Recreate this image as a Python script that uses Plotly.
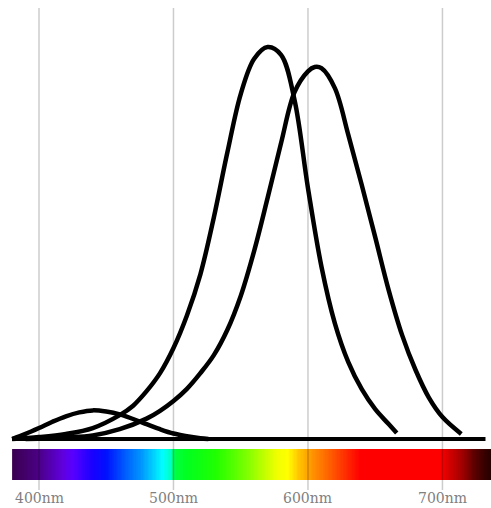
import numpy as np
import plotly.graph_objects as go

# ---- data (wavelength in nm, relative sensitivity; M peak = 1) ----
s_nm = [380, 390, 400, 410, 420, 430, 440, 450, 460, 470, 480, 490, 500, 510, 520, 526]
s_val = [0.0, 0.013, 0.028, 0.044, 0.058, 0.068, 0.073, 0.070, 0.063, 0.051, 0.038, 0.025, 0.014, 0.007, 0.002, 0.0]

m_nm = [380, 400, 420, 440, 460, 470, 480, 490, 500, 510, 520, 530, 540, 550, 560, 570,
        580, 590, 600, 610, 620, 630, 640, 650, 660, 666]
m_val = [0.0, 0.005, 0.013, 0.028, 0.061, 0.085, 0.122, 0.168, 0.232, 0.315, 0.420, 0.565, 0.730,
         0.880, 0.970, 1.0, 0.980, 0.865, 0.640, 0.440, 0.295, 0.196, 0.127, 0.076, 0.038, 0.015]

l_nm = [390, 420, 440, 460, 480, 490, 500, 510, 520, 530, 540, 550, 560, 570, 580, 590, 600, 605,
        610, 620, 630, 640, 650, 660, 670, 680, 690, 700, 714]
l_val = [0.0, 0.004, 0.009, 0.025, 0.052, 0.072, 0.097, 0.128, 0.168, 0.214, 0.278, 0.365, 0.480,
         0.615, 0.755, 0.885, 0.938, 0.949, 0.946, 0.895, 0.776, 0.648, 0.515, 0.380, 0.265, 0.176,
         0.105, 0.056, 0.013]

baseline_nm = [380, 732]

tick_nm = [400, 500, 600, 700]
tick_labels = ["400nm", "500nm", "600nm", "700nm"]

spectrum_nm = [380, 400, 418, 425, 440, 450, 465, 475, 485, 492, 498, 501, 510, 532, 555, 564,
               577, 585, 594, 604, 616, 631, 639, 698, 706, 715, 723, 733, 740]
spectrum_colors = ['#3a0050', '#4b0085', '#6000e0', '#5800ff', '#1800ff', '#0010ff', '#0060ff',
                   '#0090ff', '#00d0ff', '#00ffff', '#00ffc0', '#00ff40', '#00ff20', '#20ff00',
                   '#80ff00', '#b0ff00', '#f0ff00', '#ffff00', '#ffc000', '#ff9000', '#ff6000',
                   '#ff2000', '#ff0000', '#ff0000', '#d00000', '#a00000', '#600000', '#300000', '#200000']

# ---- layout constants ----
BAR_TOP, BAR_BOT = -0.0255, -0.1046
GRID_TOP, GRID_BOT = 1.0995, -0.130
LABEL_Y = -0.1505

lo, hi = spectrum_nm[0], spectrum_nm[-1]
colorscale = [[(w - lo) / (hi - lo), c] for w, c in zip(spectrum_nm, spectrum_colors)]
edges = np.arange(lo, hi + 1, 1.0)
centers = (edges[:-1] + edges[1:]) / 2

fig = go.Figure()

fig.add_trace(go.Heatmap(
    x=edges, y=[BAR_BOT, BAR_TOP], z=[centers],
    colorscale=colorscale, zmin=lo, zmax=hi, showscale=False, hoverinfo="skip"))

gx, gy = [], []
for t in tick_nm:
    gx += [t, t, None]
    gy += [GRID_BOT, GRID_TOP, None]
fig.add_trace(go.Scatter(x=gx, y=gy, mode="lines",
                         line=dict(color="rgba(0,0,0,0.2)", width=1.5), hoverinfo="skip"))

fig.add_trace(go.Scatter(x=baseline_nm, y=[0, 0], mode="lines",
                         line=dict(color="black", width=4)))
for xs, ys in [(s_nm, s_val), (m_nm, m_val), (l_nm, l_val)]:
    fig.add_trace(go.Scatter(x=xs, y=ys, mode="lines",
                             line=dict(color="black", width=4.5, shape="spline", smoothing=1.0)))

for t, lab in zip(tick_nm, tick_labels):
    fig.add_annotation(x=t, y=LABEL_Y, text=lab, showarrow=False,
                       font=dict(family="DejaVu Serif", size=14, color="#808080"),
                       xanchor="center", yanchor="middle")

fig.update_layout(
    width=491, height=508, margin=dict(l=0, r=0, t=0, b=0),
    paper_bgcolor="white", plot_bgcolor="white", showlegend=False,
    xaxis=dict(range=[371.0, 736.1], visible=False, fixedrange=True),
    yaxis=dict(range=[-0.17602, 1.11990], visible=False, fixedrange=True),
)

fig.write_html("out.html", config={"displayModeBar": False},
               post_script="document.body.style.margin='0';document.body.style.padding='0';")
